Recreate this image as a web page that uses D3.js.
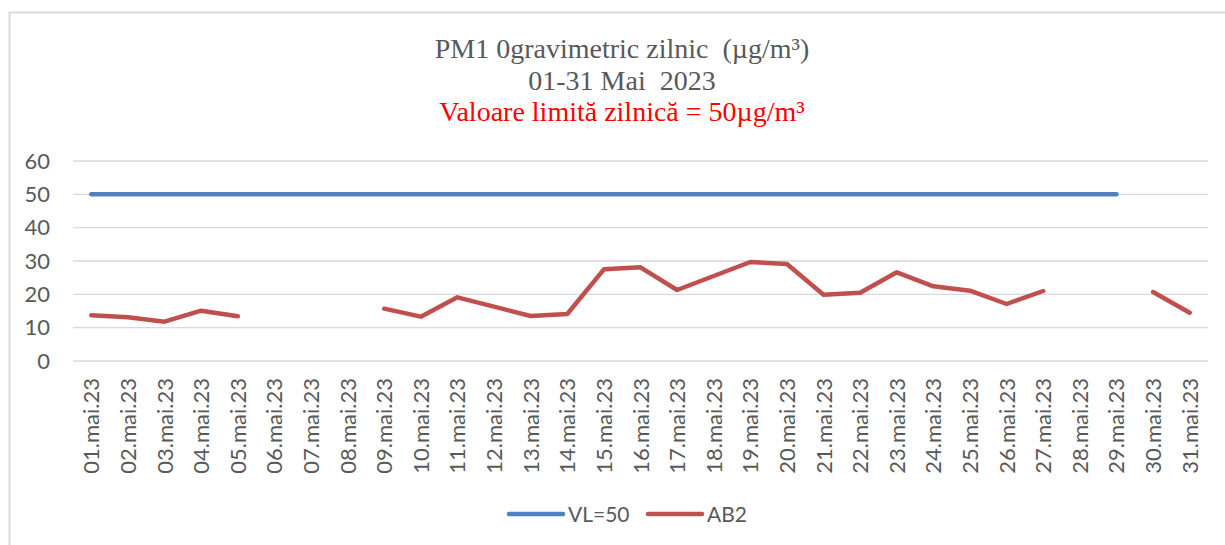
<!DOCTYPE html>
<html>
<head>
<meta charset="utf-8">
<script src="https://cdn.jsdelivr.net/npm/d3@7"></script>
<style>
  body { margin: 0; background: #fff; }
  svg { display: block; }
  .title { font-family: "Liberation Serif", "Times New Roman", serif; font-size: 28px; white-space: pre; }
  .lbl { font-family: Lato, "Open Sans", sans-serif; fill: #595959; }
</style>
</head>
<body>
<svg id="chart" width="1225" height="545"></svg>
<script>
const days = d3.range(1, 32).map(d => String(d).padStart(2, '0') + '.mai.23');
const limitValues = days.map((d, i) => i < 29 ? 50 : null);
const ab2Values = [13.7, 13.1, 11.8, 15.1, 13.4, null, null, null, 15.7, 13.3,
  19.1, 16.3, 13.5, 14.1, 27.5, 28.1, 21.3, 25.5, 29.7, 29.1,
  19.9, 20.5, 26.6, 22.4, 21.1, 17.1, 21.0, null, null, 20.7, 14.5];
const yTicks = [0, 10, 20, 30, 40, 50, 60];

const series = [
  { name: 'VL=50', color: '#4F81BD', values: limitValues },
  { name: 'AB2', color: '#C0504D', values: ab2Values }
];

const svg = d3.select('#chart');
const plot = { left: 73, right: 1208, top: 161, bottom: 361 };

// outer chart frame
svg.append('rect')
  .attr('x', 9.5).attr('y', 12.5)
  .attr('width', 1240).attr('height', 560)
  .attr('fill', 'none')
  .attr('stroke', '#d9d9d9')
  .attr('stroke-width', 2);

// title
const titleLines = [
  { text: 'PM1 0gravimetric zilnic  (µg/m³)', y: 58, color: '#595959' },
  { text: '01-31 Mai  2023', y: 90, color: '#595959' },
  { text: 'Valoare limită zilnică = 50µg/m³', y: 121, color: '#ff0000' }
];
svg.append('g')
  .selectAll('text')
  .data(titleLines)
  .join('text')
  .attr('class', 'title')
  .attr('x', 622)
  .attr('y', d => d.y)
  .attr('text-anchor', 'middle')
  .attr('fill', d => d.color)
  .text(d => d.text);

const x = d3.scaleBand()
  .domain(days)
  .range([plot.left, plot.right]);

const y = d3.scaleLinear()
  .domain([0, 60])
  .range([plot.bottom, plot.top]);

// gridlines
svg.append('g')
  .selectAll('line')
  .data(yTicks)
  .join('line')
  .attr('x1', plot.left).attr('x2', plot.right)
  .attr('y1', d => y(d)).attr('y2', d => y(d))
  .attr('stroke', '#d9d9d9')
  .attr('stroke-width', 1.3);

// y axis labels
const yAxis = svg.append('g')
  .attr('transform', `translate(${plot.left},0)`)
  .call(d3.axisLeft(y).tickValues(yTicks).tickSize(0).tickPadding(23));
yAxis.select('.domain').remove();
yAxis.selectAll('text')
  .attr('class', 'lbl')
  .attr('font-size', 22)
  .attr('fill', '#595959');

// x axis labels, rotated
const xAxis = svg.append('g')
  .attr('transform', `translate(0,${plot.bottom})`)
  .call(d3.axisBottom(x).tickSize(0).tickPadding(0));
xAxis.select('.domain').remove();
xAxis.selectAll('text')
  .attr('class', 'lbl')
  .attr('font-size', 22)
  .attr('fill', '#595959')
  .attr('text-anchor', 'end')
  .attr('dy', null)
  .attr('transform', 'translate(8,17) rotate(-90)');

// lines
const line = d3.line()
  .defined(d => d.v != null)
  .x(d => x(d.day) + x.bandwidth() / 2)
  .y(d => y(d.v));

svg.append('g')
  .selectAll('path')
  .data(series)
  .join('path')
  .attr('d', s => line(s.values.map((v, i) => ({ day: days[i], v }))))
  .attr('fill', 'none')
  .attr('stroke', s => s.color)
  .attr('stroke-width', 4.5)
  .attr('stroke-linejoin', 'round')
  .attr('stroke-linecap', 'round');

// legend
const legendX = [509, 648];
series.forEach((s, i) => {
  const g = svg.append('g').attr('transform', `translate(${legendX[i]},514)`);
  g.append('line')
    .attr('x1', 0).attr('x2', 54)
    .attr('stroke', s.color)
    .attr('stroke-width', 4.5)
    .attr('stroke-linecap', 'round');
  g.append('text')
    .attr('class', 'lbl')
    .attr('font-size', 21)
    .attr('x', 59).attr('y', 8)
    .text(s.name);
});
</script>
</body>
</html>
